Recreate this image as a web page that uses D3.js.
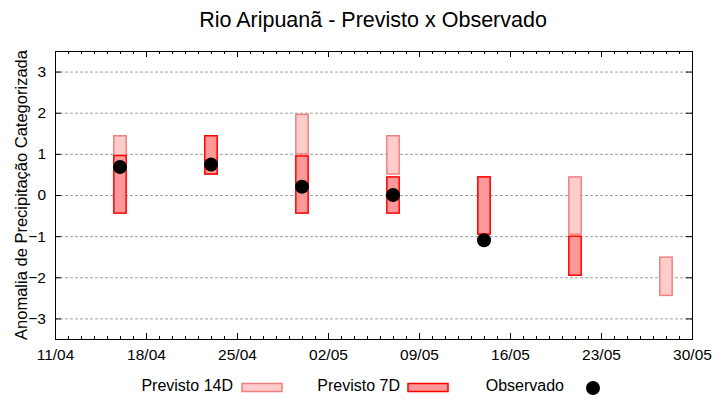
<!DOCTYPE html>
<html>
<head>
<meta charset="utf-8">
<script src="https://cdn.jsdelivr.net/npm/d3@7"></script>
<style>
  body { margin: 0; background: #fff; }
  svg { font-family: "Liberation Sans", Arial, sans-serif; }
</style>
</head>
<body>
<svg width="720" height="400"></svg>
<script>
// values
var dates = ["2024-04-16", "2024-04-23", "2024-04-30", "2024-05-07", "2024-05-14", "2024-05-21", "2024-05-28"];
var p14Low  = [0.96, 0.51, 1.00, 0.51, -0.95, -0.95, -2.44];
var p14High = [1.44, 1.44, 1.96, 1.44,  0.44,  0.44, -1.51];
var p7Low   = [-0.44, 0.51, -0.44, -0.44, -0.95, -1.95, null];
var p7High  = [ 0.96, 1.44,  0.95,  0.44,  0.44, -1.00, null];
var observed = [0.68, 0.74, 0.20, 0.00, -1.10, null, null];
var yTicks = [-3, -2, -1, 0, 1, 2, 3];

var width = 720;
var height = 400;
var margin = {top: 51, right: 28, bottom: 61, left: 55};

var parse = d3.utcParse('%Y-%m-%d');
var data = dates.map((d, i) => ({
    date: parse(d),
    p14: [p14Low[i], p14High[i]],
    p7: [p7Low[i], p7High[i]],
    obs: observed[i]
}));

var start = parse('2024-04-11');
var xScale = d3.scaleUtc()
                .domain([start, parse('2024-05-30')])
                .range([margin.left, width - margin.right]);

var yScale = d3.scaleLinear()
                .domain([-3.5, 3.5])
                .range([height - margin.bottom, margin.top]);

var svg = d3.select('svg');

var majorTicks = d3.range(0, 8).map(i => d3.utcDay.offset(start, i * 7));
var minorTicks = d3.utcDay.range(start, parse('2024-05-31'));

// grid
svg.append('g')
  .selectAll('line')
    .data(yTicks)
    .enter()
    .append('line')
      .attr('x1', margin.left)
      .attr('x2', width - margin.right)
      .attr('y1', d => yScale(d) + 0.5)
      .attr('y2', d => yScale(d) + 0.5)
      .attr('stroke', '#a0a0a0')
      .attr('stroke-width', 1)
      .attr('stroke-dasharray', '3,2');

var barW = (xScale(d3.utcDay.offset(start, 1)) - xScale(start)) * 0.95;

// Previsto 14D
svg.append('g')
  .selectAll('rect')
    .data(data.filter(d => d.p14[0] !== null))
    .enter()
    .append('rect')
      .attr('x', d => xScale(d.date) - barW / 2)
      .attr('width', barW)
      .attr('y', d => yScale(d.p14[1]))
      .attr('height', d => yScale(d.p14[0]) - yScale(d.p14[1]))
      .attr('fill', '#ffcccc')
      .attr('stroke', '#f08080')
      .attr('stroke-width', 1.5);

// Previsto 7D
svg.append('g')
  .selectAll('rect')
    .data(data.filter(d => d.p7[0] !== null))
    .enter()
    .append('rect')
      .attr('x', d => xScale(d.date) - barW / 2)
      .attr('width', barW)
      .attr('y', d => yScale(d.p7[1]))
      .attr('height', d => yScale(d.p7[0]) - yScale(d.p7[1]))
      .attr('fill', '#ff9999')
      .attr('stroke', '#ff0000')
      .attr('stroke-width', 1.5);

// Observado
svg.append('g')
  .selectAll('circle')
    .data(data.filter(d => d.obs !== null))
    .enter()
    .append('circle')
      .attr('cx', d => xScale(d.date))
      .attr('cy', d => yScale(d.obs))
      .attr('r', 7)
      .attr('fill', '#000');

// axes: gnuplot-like, ticks inward and mirrored
var fmt = d3.utcFormat('%d/%m');
var x0 = margin.left, x1 = width - margin.right;
var y0 = height - margin.bottom, y1 = margin.top;

var xAxisB = d3.axisBottom(xScale).tickValues(majorTicks).tickFormat(fmt).tickSize(-6).tickSizeOuter(0).tickPadding(10);
var xAxisT = d3.axisTop(xScale).tickValues(majorTicks).tickFormat('').tickSize(-6).tickSizeOuter(0);
var xMinorB = d3.axisBottom(xScale).tickValues(minorTicks).tickFormat('').tickSize(-3).tickSizeOuter(0);
var xMinorT = d3.axisTop(xScale).tickValues(minorTicks).tickFormat('').tickSize(-3).tickSizeOuter(0);
var yAxisL = d3.axisLeft(yScale).tickValues(yTicks).tickFormat(d3.format('d')).tickSize(-6).tickSizeOuter(0).tickPadding(9);
var yAxisR = d3.axisRight(yScale).tickValues(yTicks).tickFormat('').tickSize(-6).tickSizeOuter(0);

[[xAxisB, `translate(0,${y0})`], [xMinorB, `translate(0,${y0})`],
 [xAxisT, `translate(0,${y1})`], [xMinorT, `translate(0,${y1})`],
 [yAxisL, `translate(${x0},0)`], [yAxisR, `translate(${x1},0)`]].forEach(a => {
    var g = svg.append('g').attr('transform', a[1]).call(a[0]);
    g.select('.domain').remove();
    g.selectAll('line').attr('stroke', '#000');
    g.selectAll('text').attr('fill', '#000').style('font-size', '15.5px')
        .style('font-family', '"Liberation Sans", Arial, sans-serif');
});

svg.append('rect')
    .attr('x', x0 + 0.5)
    .attr('y', y1 + 0.5)
    .attr('width', x1 - x0)
    .attr('height', y0 - y1)
    .attr('fill', 'none')
    .attr('stroke', '#000')
    .attr('stroke-width', 1);

// title and axis label
svg.append('text')
    .attr('x', 373)
    .attr('y', 27)
    .style('text-anchor', 'middle')
    .style('font-size', '21.5px')
    .text('Rio Aripuanã - Previsto x Observado');

svg.append('text')
    .attr('transform', 'rotate(-90)')
    .attr('x', -(y0 + y1) / 2)
    .attr('y', 27)
    .style('text-anchor', 'middle')
    .style('font-size', '16.5px')
    .text('Anomalia de Precipitação Categorizada');

// legend
var legend = svg.append('g').style('font-size', '16px');
legend.append('text').attr('x', 233).attr('y', 391).style('text-anchor', 'end').text('Previsto 14D');
legend.append('rect').attr('x', 242).attr('y', 383.5).attr('width', 40).attr('height', 8)
    .attr('fill', '#ffcccc').attr('stroke', '#f08080').attr('stroke-width', 1.5);
legend.append('text').attr('x', 400).attr('y', 391).style('text-anchor', 'end').text('Previsto 7D');
legend.append('rect').attr('x', 408).attr('y', 383.5).attr('width', 40).attr('height', 8)
    .attr('fill', '#ff9999').attr('stroke', '#ff0000').attr('stroke-width', 1.5);
legend.append('text').attr('x', 564).attr('y', 391).style('text-anchor', 'end').text('Observado');
legend.append('circle').attr('cx', 593).attr('cy', 388).attr('r', 7).attr('fill', '#000');
</script>
</body>
</html>
